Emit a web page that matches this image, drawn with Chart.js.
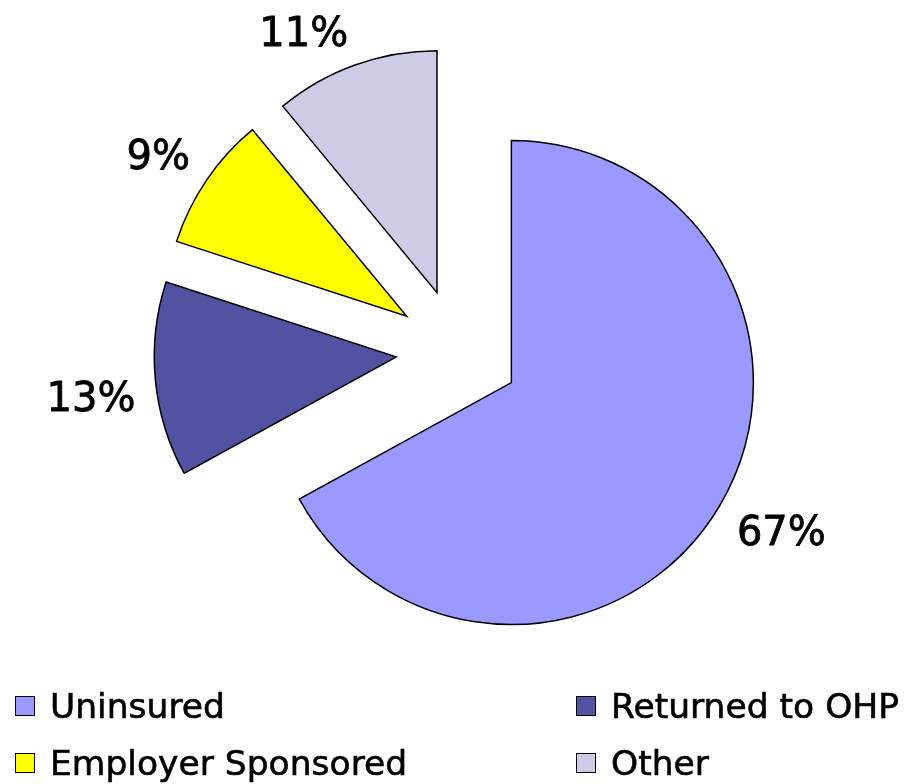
<!DOCTYPE html>
<html><head><meta charset="utf-8">
<script src="https://cdn.jsdelivr.net/npm/chart.js@4"></script>
<style>
html,body{margin:0;padding:0;background:#fff;}
#wrap{position:relative;width:909px;height:784px;overflow:hidden;}
#c{position:absolute;left:0;top:0;}
#legend{position:absolute;left:0;top:0;width:909px;height:784px;pointer-events:none;font-family:"DejaVu Sans",Verdana,sans-serif;font-size:34.5px;color:#000;-webkit-text-stroke:0.6px #000;}
.item{position:absolute;display:flex;align-items:center;height:40px;white-space:nowrap;}
.item:nth-child(1){left:15px;top:685.5px;}
.item:nth-child(2){left:576px;top:685.5px;}
.item:nth-child(3){left:15px;top:743px;}
.item:nth-child(4){left:576px;top:743px;}
.box{width:18px;height:18px;border:1.5px solid #000;margin-right:15px;box-sizing:content-box;-webkit-text-stroke:0;}
</style></head>
<body><div id="wrap"><canvas id="c" width="909" height="784"></canvas><div id="legend"></div></div>
<script>
const categories = ["Uninsured", "Returned to OHP", "Employer Sponsored", "Other"];
const shares = [67, 13, 9, 11];
const shareLabels = ["67%", "13%", "9%", "11%"];
const sliceColors = ["#9999FF", "#5153A2", "#FFFF00", "#CCCCE6"];

const EXPLODE = 62;

function midAngle(arc) {
  const p = arc.getProps(['startAngle', 'endAngle'], true);
  return (p.startAngle + p.endAngle) / 2;
}

// draw each Chart.js arc element shifted outward along its mid-angle (exploded pie)
const explodePlugin = {
  id: 'explode',
  beforeDatasetDraw(chart, args) {
    const ctx = chart.ctx;
    args.meta.data.forEach((arc) => {
      const mid = midAngle(arc);
      ctx.save();
      ctx.translate(Math.cos(mid) * EXPLODE, Math.sin(mid) * EXPLODE);
      arc.draw(ctx);
      ctx.restore();
    });
    return false;
  }
};

// percentage labels: near corner of the text box sits just outside the slice, on its mid-angle
const labelPlugin = {
  id: 'pctLabels',
  afterDatasetsDraw(chart) {
    const ctx = chart.ctx;
    const meta = chart.getDatasetMeta(0);
    const fs = 40;
    const cap = fs * 0.729;
    const gap = 20;
    ctx.save();
    ctx.font = fs + 'px "DejaVu Sans", Verdana, sans-serif';
    ctx.fillStyle = '#000';
    ctx.strokeStyle = '#000';
    ctx.lineWidth = 0.8;
    ctx.textAlign = 'left';
    ctx.textBaseline = 'alphabetic';
    meta.data.forEach((arc, i) => {
      const p = arc.getProps(['x', 'y', 'outerRadius'], true);
      const mid = midAngle(arc);
      const c = Math.cos(mid), s = Math.sin(mid);
      const vx = p.x + c * EXPLODE;
      const vy = p.y + s * EXPLODE;
      const d = p.outerRadius + gap;
      const px = vx + c * d, py = vy + s * d;
      const w = ctx.measureText(shareLabels[i]).width;
      const left = c >= 0 ? px : px - w;
      let top = s >= 0 ? py : py - cap;
      if (top < 10) top = 10;
      ctx.fillText(shareLabels[i], left, top + cap);
      ctx.strokeText(shareLabels[i], left, top + cap);
    });
    ctx.restore();
  }
};

const chart = new Chart(document.getElementById('c'), {
  type: 'pie',
  data: {
    labels: categories,
    datasets: [{
      data: shares,
      backgroundColor: sliceColors,
      borderColor: '#000',
      borderWidth: 1.5,
      borderJoinStyle: 'miter',
      radius: 242,
      offset: 0,
      hoverOffset: 0
    }]
  },
  options: {
    responsive: false,
    animation: false,
    events: [],
    layout: { padding: { left: 7, right: 0, top: 0, bottom: 82 } },
    plugins: { legend: { display: false }, tooltip: { enabled: false } }
  },
  plugins: [explodePlugin, labelPlugin]
});

const legendEl = document.getElementById('legend');
chart.data.labels.forEach((lab, i) => {
  const item = document.createElement('div');
  item.className = 'item';
  const box = document.createElement('span');
  box.className = 'box';
  box.style.background = chart.data.datasets[0].backgroundColor[i];
  const txt = document.createElement('span');
  txt.textContent = lab;
  item.appendChild(box);
  item.appendChild(txt);
  legendEl.appendChild(item);
});
</script>
</body></html>
